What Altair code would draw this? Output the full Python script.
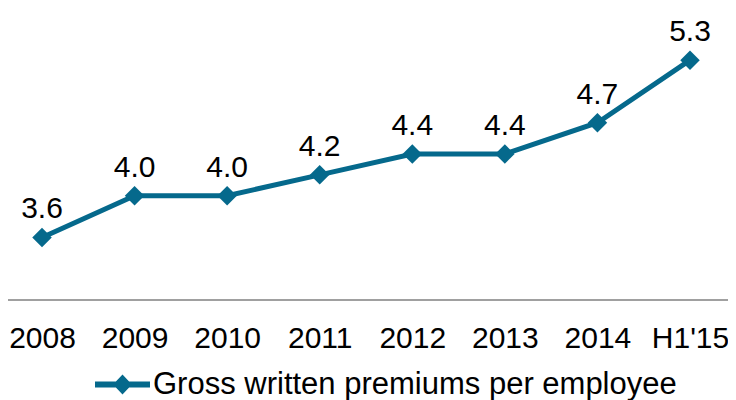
import altair as alt
import pandas as pd

years = ["2008", "2009", "2010", "2011", "2012", "2013", "2014", "H1'15"]
values = [3.6, 4.0, 4.0, 4.2, 4.4, 4.4, 4.7, 5.3]
series_name = "Gross written premiums per employee"

df = pd.DataFrame({"year": years, "value": values, "series": [series_name] * len(years)})

COLOR = "#05698c"
FONT = "Liberation Sans"

x_enc = alt.X("year:O", sort=years,
              scale=alt.Scale(type="point", range=[34, 682], padding=0),
              axis=alt.Axis(title=None, labelAngle=0, ticks=False, tickSize=0, domain=False,
                            grid=False, labelFontSize=30, labelFont=FONT, labelColor="#000000",
                            labelPadding=23))
y_enc = alt.Y("value:Q", scale=alt.Scale(domain=[3.0, 5.8], nice=False, zero=False), axis=None)

base = alt.Chart(df)

line = base.mark_line(color=COLOR, strokeWidth=5).encode(x=x_enc, y=y_enc)

points = base.mark_point(filled=True, shape="diamond", size=380, opacity=1).encode(
    x=x_enc, y=y_enc,
    color=alt.Color("series:N", scale=alt.Scale(range=[COLOR]),
                    legend=alt.Legend(title=None, orient="none", legendX=87, legendY=349,
                                      symbolType="M-1,-0.11L-0.24,-0.11L0,-0.36L0.24,-0.11L1,-0.11L1,0.11L0.24,0.11L0,0.36L-0.24,0.11L-1,0.11Z",
                                      symbolSize=3025, symbolStrokeWidth=0, symbolFillColor=COLOR,
                                      labelFontSize=31, labelFont=FONT, labelColor="#000000",
                                      labelOffset=3, padding=0, labelLimit=700))
)

labels = base.mark_text(dy=-19, baseline="alphabetic", fontSize=30, font=FONT, color="#000000").encode(
    x=x_enc, y=y_enc, text=alt.Text("value:Q", format=".1f"))

axis_line = alt.Chart(pd.DataFrame({"a": [0]})).mark_rule(color="#a0a0a0", strokeWidth=2).encode(
    x=alt.value(0), x2=alt.value(720), y=alt.value(292))

chart = alt.layer(axis_line, line, points, labels).properties(
    width=720, height=292,
    autosize=alt.AutoSizeParams(type="none"),
    padding={"left": 0, "top": 0, "right": 0, "bottom": 100},
).configure_view(stroke=None)

chart.save("out.html", embed_options={"renderer": "svg", "actions": False})
